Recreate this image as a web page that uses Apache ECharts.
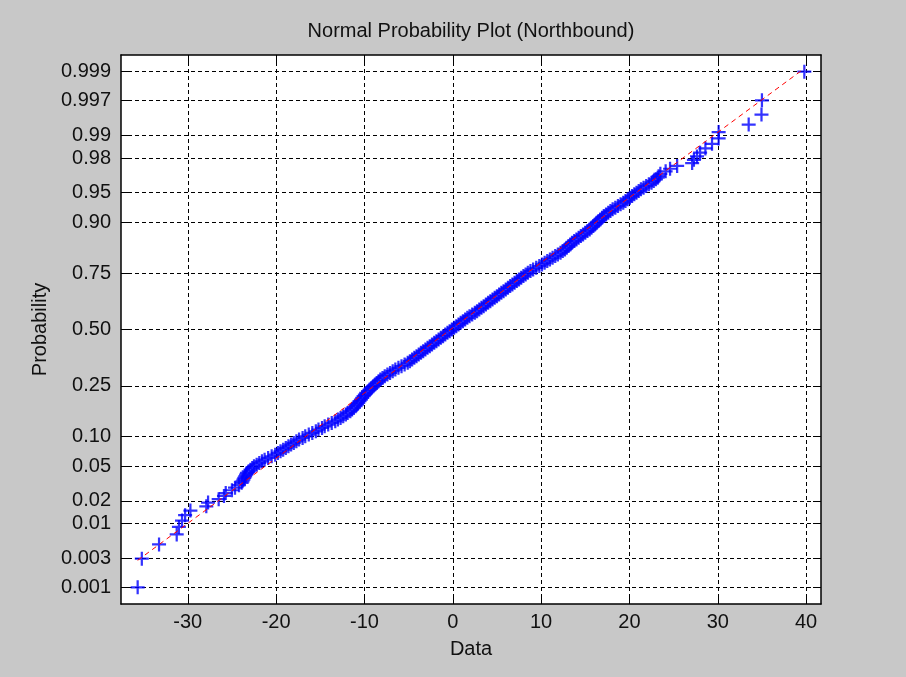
<!DOCTYPE html>
<html><head><meta charset="utf-8">
<script src="https://cdn.jsdelivr.net/npm/echarts@6/dist/echarts.min.js"></script>
<style>html,body{margin:0;padding:0;background:#c8c8c8}#chart{width:906px;height:677px}</style>
</head><body><div id="chart"></div>
<script>
// ---- data ----
const titleText = 'Normal Probability Plot (Northbound)';
const xAxisName = 'Data';
const yAxisName = 'Probability';
const xTicks = [-30, -20, -10, 0, 10, 20, 30, 40];
const yTickLabels = ['0.001','0.003','0.01','0.02','0.05','0.10','0.25','0.50','0.75','0.90','0.95','0.98','0.99','0.997','0.999'];
const sampleSize = 500;
// sorted data values (x)
const sortedData = [
 -35.67,-35.2,-33.25,-31.25,-31.0,-30.65,-30.3,-29.7,-27.9,-27.7,-26.5,-25.9,-25.7,-25.0,-24.65,-24.2,-23.9,
 -23.8,-23.7,-23.6,-23.5,-23.4,-23.3,-23.1,-22.9,-22.7,-22.5,-22.2,-21.9,-21.6,-21.3,-20.9,-20.5,-20.1,-19.8,-19.5,-19.2,
 -18.9,-18.6,-18.3,-18.0,-17.7,-17.4,-17.0,-16.7,-16.3,-15.9,-15.5,-15.2,-14.8,-14.5,-14.1,-13.7,-13.3,-13.0,-12.7,-12.4,
 -12.1,-11.9,-11.6,-11.4,-11.2,-11.0,-10.85,-10.7,-10.55,-10.4,-10.25,-10.1,-9.95,-9.8,-9.6,-9.4,-9.2,-9.0,-8.8,-8.6,
 -8.4,-8.2,-7.95,-7.7,-7.4,-7.1,-6.8,-6.5,-6.15,-5.8,-5.45,-5.1,-4.85,-4.6,-4.35,-4.1,-3.85,-3.6,-3.35,-3.1,-2.85,-2.6,
 -2.35,-2.1,-1.85,-1.6,-1.35,-1.1,-0.85,-0.6,-0.35,-0.1,0.15,0.4,0.65,0.9,1.15,1.4,1.65,1.9,2.2,2.5,
 2.75,3.0,3.25,3.5,3.75,4.0,4.25,4.5,4.75,5.0,5.25,5.5,5.75,6.0,6.25,6.5,6.75,7.0,7.25,7.5,
 7.75,8.0,8.25,8.5,8.8,9.1,9.45,9.8,10.1,10.4,10.7,11.0,11.3,11.6,11.9,12.2,12.45,12.7,12.9,13.1,
 13.3,13.5,13.75,14.0,14.25,14.5,14.75,15.0,15.25,15.5,15.7,15.9,16.1,16.3,16.5,16.7,16.9,17.1,17.35,17.6,
 17.85,18.1,18.4,18.7,19.0,19.3,19.55,19.8,20.05,20.3,20.55,20.8,21.05,21.3,21.6,21.9,22.2,22.5,22.75,23.0,23.2,
 23.3,23.5,24.1,24.6,25.4,27.1,27.3,27.65,28.0,28.6,29.35,30.1,30.1,33.5,34.95,35.0,39.8
];
// normal scores (vertical position in standard-normal units)
const normalScores = [
 -3.090,-2.748,-2.576,-2.457,-2.366,-2.290,-2.226,-2.170,-2.120,-2.075,-2.034,-1.995,-1.960,-1.927,-1.896,-1.866,-1.838,
 -1.82,-1.80,-1.78,-1.76,-1.74,-1.72,-1.70,-1.68,-1.66,-1.64,-1.62,-1.60,-1.58,-1.56,-1.54,-1.52,-1.50,-1.48,-1.46,-1.44,
 -1.42,-1.40,-1.38,-1.36,-1.34,-1.32,-1.30,-1.28,-1.26,-1.24,-1.22,-1.20,-1.18,-1.16,-1.14,-1.12,-1.10,-1.08,-1.06,-1.04,
 -1.02,-1.00,-0.98,-0.96,-0.94,-0.92,-0.90,-0.88,-0.86,-0.84,-0.82,-0.80,-0.78,-0.76,-0.74,-0.72,-0.70,-0.68,-0.66,-0.64,
 -0.62,-0.60,-0.58,-0.56,-0.54,-0.52,-0.50,-0.48,-0.46,-0.44,-0.42,-0.40,-0.38,-0.36,-0.34,-0.32,-0.30,-0.28,-0.26,-0.24,
 -0.22,-0.20,-0.18,-0.16,-0.14,-0.12,-0.10,-0.08,-0.06,-0.04,-0.02,0.00,0.02,0.04,0.06,0.08,0.10,0.12,0.14,0.16,0.18,0.20,
 0.22,0.24,0.26,0.28,0.30,0.32,0.34,0.36,0.38,0.40,0.42,0.44,0.46,0.48,0.50,0.52,0.54,0.56,0.58,0.60,
 0.62,0.64,0.66,0.68,0.70,0.72,0.74,0.76,0.78,0.80,0.82,0.84,0.86,0.88,0.90,0.92,0.94,0.96,0.98,1.00,
 1.02,1.04,1.06,1.08,1.10,1.12,1.14,1.16,1.18,1.20,1.22,1.24,1.26,1.28,1.30,1.32,1.34,1.36,1.38,1.40,
 1.42,1.44,1.46,1.48,1.50,1.52,1.54,1.56,1.58,1.60,1.62,1.64,1.66,1.68,1.70,1.72,1.74,1.76,1.78,1.80,1.82,
 1.838,1.866,1.896,1.927,1.960,1.995,2.034,2.075,2.120,2.170,2.226,2.290,2.366,2.457,2.576,2.748,3.090
];
const fitMean = -0.25;
const fitStd = 12.8;

// ---- inverse normal CDF (Acklam) ----
function norminv(p) {
  const a=[-3.969683028665376e+01,2.209460984245205e+02,-2.759285104469687e+02,1.383577518672690e+02,-3.066479806614716e+01,2.506628277459239e+00];
  const b=[-5.447609879822406e+01,1.615858368580409e+02,-1.556989798598866e+02,6.680131188771972e+01,-1.328068155288572e+01];
  const c=[-7.784894002430293e-03,-3.223964580411365e-01,-2.400758277161838e+00,-2.549671010114120e+00,4.374664141464968e+00,2.938163982698783e+00];
  const d=[7.784695709041462e-03,3.224671290700398e-01,2.445134137142996e+00,3.754408661907416e+00];
  const pl=0.02425, ph=1-pl; let q,r;
  if (p<pl){q=Math.sqrt(-2*Math.log(p));return (((((c[0]*q+c[1])*q+c[2])*q+c[3])*q+c[4])*q+c[5])/((((d[0]*q+d[1])*q+d[2])*q+d[3])*q+1);}
  if (p<=ph){q=p-0.5;r=q*q;return (((((a[0]*r+a[1])*r+a[2])*r+a[3])*r+a[4])*r+a[5])*q/(((((b[0]*r+b[1])*r+b[2])*r+b[3])*r+b[4])*r+1);}
  q=Math.sqrt(-2*Math.log(1-p));return -(((((c[0]*q+c[1])*q+c[2])*q+c[3])*q+c[4])*q+c[5])/((((d[0]*q+d[1])*q+d[2])*q+d[3])*q+1);
}

const yTickPos = yTickLabels.map(s => norminv(parseFloat(s)));
const yLim = -norminv(0.25 / sampleSize);
const dataMin = Math.min(...sortedData), dataMax = Math.max(...sortedData);
const pad = (dataMax - dataMin) * 0.025;
const xMin = dataMin - pad, xMax = dataMax + pad;

const points = sortedData.map((x, i) => [x, normalScores[i]]);
const fitPts = [[dataMin, (dataMin - fitMean) / fitStd], [dataMax, (dataMax - fitMean) / fitStd]];

const FONT = 'Liberation Sans, Arial, sans-serif';
const TXT = '#111';
const plus = 'path://M0,5.8L0,4.2L10,4.2L10,5.8Z M4.2,0L5.8,0L5.8,10L4.2,10Z';

const yLabelFmt = v => {
  let best = 0, bd = 1e9;
  yTickPos.forEach((t, i) => { const d = Math.abs(t - v); if (d < bd) { bd = d; best = i; } });
  return yTickLabels[best];
};

const axisLineStyle = { show: true, onZero: false, lineStyle: { color: '#000', width: 1.5 } };
const gridLine = { show: true, lineStyle: { color: '#000', width: 1, type: [4, 3] } };

const chart = echarts.init(document.getElementById('chart'), null, { renderer: 'canvas' });
chart.setOption({
  backgroundColor: '#c8c8c8',
  animation: false,
  grid: { left: 121, right: 85, top: 55, bottom: 73, show: true, backgroundColor: '#ffffff', borderWidth: 0 },
  xAxis: [
    { type: 'value', position: 'bottom', min: xMin, max: xMax,
      name: xAxisName, nameLocation: 'middle', nameGap: 35,
      nameTextStyle: { fontFamily: FONT, fontSize: 20, color: TXT },
      axisLine: axisLineStyle,
      axisTick: { show: true, inside: true, length: 8, customValues: xTicks, lineStyle: { color: '#000', width: 1 } },
      axisLabel: { show: true, customValues: xTicks, margin: 8, fontFamily: FONT, fontSize: 20, color: TXT },
      splitLine: gridLine },
    { type: 'value', position: 'top', min: xMin, max: xMax,
      name: titleText, nameLocation: 'middle', nameGap: 14,
      nameTextStyle: { fontFamily: FONT, fontSize: 20, color: TXT },
      axisLine: axisLineStyle,
      axisTick: { show: true, inside: true, length: 8, customValues: xTicks, lineStyle: { color: '#000', width: 1 } },
      axisLabel: { show: false }, splitLine: { show: false } }
  ],
  yAxis: [
    { type: 'value', position: 'left', min: -yLim, max: yLim,
      name: yAxisName, nameLocation: 'middle', nameGap: 68, nameRotate: 90,
      nameTextStyle: { fontFamily: FONT, fontSize: 20, color: TXT },
      axisLine: axisLineStyle,
      axisTick: { show: true, inside: true, length: 8, customValues: yTickPos, lineStyle: { color: '#000', width: 1 } },
      axisLabel: { show: true, customValues: yTickPos, margin: 10, formatter: yLabelFmt, fontFamily: FONT, fontSize: 20, color: TXT },
      splitLine: gridLine },
    { type: 'value', position: 'right', min: -yLim, max: yLim,
      axisLine: axisLineStyle,
      axisTick: { show: true, inside: true, length: 8, customValues: yTickPos, lineStyle: { color: '#000', width: 1 } },
      axisLabel: { show: false }, splitLine: { show: false } }
  ],
  series: [
    { type: 'scatter', xAxisIndex: 0, yAxisIndex: 0, data: points, symbol: plus, symbolSize: 14,
      itemStyle: { color: '#0000ff' }, z: 3, silent: true },
    { type: 'line', xAxisIndex: 0, yAxisIndex: 0, data: fitPts, symbol: 'none',
      lineStyle: { color: '#ff0000', width: 1, type: [5, 4] }, z: 4, silent: true }
  ]
});
</script></body></html>
